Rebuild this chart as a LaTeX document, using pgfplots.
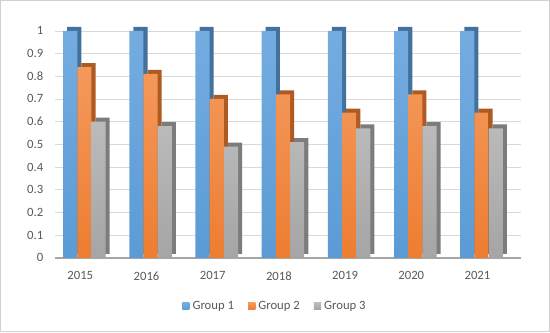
\documentclass[border=0pt]{standalone}
\usepackage{fontspec}
\setmainfont{Carlito}
\usepackage{pgfplots}
\pgfplotsset{compat=1.18}
\definecolor{bA}{HTML}{5B9BD5}
\definecolor{bAt}{HTML}{74ACE0}
\definecolor{bAd}{HTML}{41719C}
\definecolor{oA}{HTML}{ED7D31}
\definecolor{oAt}{HTML}{F4995C}
\definecolor{oAd}{HTML}{AE5A21}
\definecolor{gA}{HTML}{A5A5A5}
\definecolor{gAt}{HTML}{BBBBBB}
\definecolor{gAd}{HTML}{7C7C7C}
\definecolor{txt}{HTML}{595959}
\begin{document}
\begin{tikzpicture}
\begin{axis}[
  scale only axis,
  width=460pt, height=224pt,
  xmin=-0.383, xmax=6.66,
  ymin=0, ymax=1,
  clip=false,
  axis line style={draw=none},
  ytick={0,0.1,...,1},
  yticklabels={0,0.1,0.2,0.3,0.4,0.5,0.6,0.7,0.8,0.9,1},
  xtick={0,...,6},
  xticklabels={2015,2016,2017,2018,2019,2020,2021},
  major tick length=0pt,
  ymajorgrids,
  grid style={draw=black!15, line width=0.6pt},
  tick label style={font=\fontsize{12.5}{14}\selectfont, text=txt},
  yticklabel style={xshift=-8pt},
  xticklabel style={yshift=-10pt},
  /pgf/number format/assume math mode=true,
  ybar, bar width=14pt,
  legend style={at={(rel axis cs:0.472,-0.214)}, anchor=center, draw=none,
    font=\fontsize{12.5}{14}\selectfont, text=txt, legend columns=3,
    /tikz/every even column/.append style={column sep=12pt},
    /tikz/every odd column/.append style={column sep=1pt}},
  legend image code/.code={\path[#1, draw=none] (0pt,-3.5pt) rectangle (7pt,3.5pt);},
]
% floor
\draw[black!35, line width=2pt] (axis cs:-0.383,0) -- (axis cs:6.66,0);
% Group 1
\addplot[forget plot, fill=bAd, draw=none, bar shift=-10pt, xshift=4pt, yshift=4pt] coordinates {(0,1)(1,1)(2,1)(3,1)(4,1)(5,1)(6,1)};
\addplot[top color=bAt, bottom color=bA, draw=none, bar shift=-10pt] coordinates {(0,1)(1,1)(2,1)(3,1)(4,1)(5,1)(6,1)};
% Group 2
\addplot[forget plot, fill=oAd, draw=none, bar shift=4pt, xshift=4pt, yshift=4pt] coordinates {(0,0.84)(1,0.81)(2,0.70)(3,0.72)(4,0.64)(5,0.72)(6,0.64)};
\addplot[top color=oAt, bottom color=oA, draw=none, bar shift=4pt] coordinates {(0,0.84)(1,0.81)(2,0.70)(3,0.72)(4,0.64)(5,0.72)(6,0.64)};
% Group 3
\addplot[forget plot, fill=gAd, draw=none, bar shift=18pt, xshift=4pt, yshift=4pt] coordinates {(0,0.60)(1,0.58)(2,0.49)(3,0.51)(4,0.57)(5,0.58)(6,0.57)};
\addplot[top color=gAt, bottom color=gA, draw=none, bar shift=18pt] coordinates {(0,0.60)(1,0.58)(2,0.49)(3,0.51)(4,0.57)(5,0.58)(6,0.57)};
\legend{Group 1, Group 2, Group 3}
\draw[black!18, line width=0.8pt] (rel axis cs:-0.117,-0.326) rectangle (rel axis cs:1.061,1.134);
\end{axis}
\end{tikzpicture}
\end{document}
